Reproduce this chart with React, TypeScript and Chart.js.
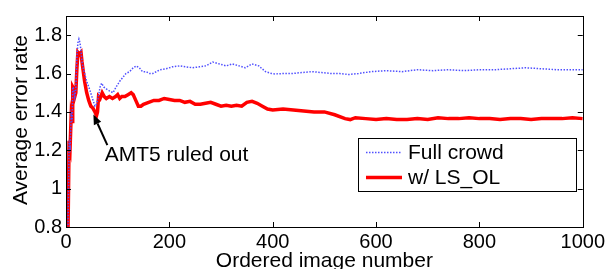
import React, { useEffect, useRef } from "react";
import { Chart, registerables } from "chart.js";

Chart.register(...registerables);

const xTicks = [0, 200, 400, 600, 800, 1000];
const yTicks = [0.8, 1.0, 1.2, 1.4, 1.6, 1.8];

const seriesNames = ["Full crowd", "w/ LS_OL"];

const fullCrowdX = [3, 4, 6, 8, 10, 12, 13, 15, 17, 19, 21, 23, 25, 27, 29, 31, 33, 36, 40, 46, 50, 56, 59, 62, 66, 69, 73, 78, 84, 91, 97, 104, 110, 116, 123, 130, 136, 142, 148, 155, 162, 168, 175, 182, 194, 206, 220, 232, 245, 258, 271, 284, 297, 310, 322, 335, 347, 360, 373, 386, 398, 405, 420, 437, 456, 476, 495, 514, 530, 547, 566, 590, 620, 650, 680, 710, 740, 770, 800, 830, 860, 890, 920, 950, 980, 1000];
const fullCrowdY = [0.7, 0.8, 1.25, 1.22, 1.38, 1.35, 1.53, 1.52, 1.48, 1.52, 1.68, 1.76, 1.78, 1.76, 1.72, 1.66, 1.63, 1.6, 1.56, 1.515, 1.48, 1.43, 1.44, 1.47, 1.53, 1.55, 1.53, 1.52, 1.51, 1.5, 1.53, 1.56, 1.58, 1.6, 1.61, 1.63, 1.64, 1.63, 1.61, 1.61, 1.6, 1.6, 1.61, 1.62, 1.625, 1.635, 1.64, 1.635, 1.63, 1.635, 1.64, 1.66, 1.65, 1.64, 1.65, 1.64, 1.63, 1.65, 1.64, 1.61, 1.6, 1.598, 1.6, 1.6, 1.605, 1.61, 1.605, 1.6, 1.6, 1.595, 1.6, 1.61, 1.615, 1.61, 1.62, 1.615, 1.62, 1.615, 1.62, 1.62, 1.625, 1.63, 1.625, 1.62, 1.62, 1.62];

const lsolX = [3, 4, 6, 8, 10, 12, 13, 15, 17, 19, 21, 23, 26, 29, 31, 33, 36, 40, 44, 48, 52, 56, 59, 61, 63, 66, 70, 74, 78, 84, 90, 96, 100, 104, 108, 114, 120, 126, 130, 135, 140, 145, 150, 160, 170, 180, 190, 200, 210, 220, 230, 240, 250, 260, 270, 280, 290, 300, 310, 320, 330, 340, 350, 360, 370, 380, 390, 400, 420, 440, 460, 480, 500, 520, 540, 550, 560, 580, 600, 620, 640, 660, 680, 700, 720, 740, 760, 780, 800, 820, 840, 860, 880, 900, 920, 940, 960, 980, 1000];
const lsolY = [0.7, 0.8, 1.25, 1.22, 1.38, 1.35, 1.53, 1.52, 1.48, 1.5, 1.62, 1.71, 1.7, 1.71, 1.66, 1.62, 1.56, 1.5, 1.46, 1.43, 1.42, 1.4, 1.38, 1.4, 1.48, 1.47, 1.5, 1.48, 1.47, 1.48, 1.47, 1.48, 1.49, 1.47, 1.48, 1.48, 1.49, 1.5, 1.49, 1.46, 1.43, 1.43, 1.44, 1.45, 1.46, 1.46, 1.47, 1.465, 1.46, 1.46, 1.45, 1.455, 1.44, 1.44, 1.445, 1.45, 1.44, 1.43, 1.435, 1.43, 1.435, 1.43, 1.45, 1.455, 1.445, 1.43, 1.415, 1.41, 1.415, 1.41, 1.405, 1.4, 1.4, 1.385, 1.365, 1.36, 1.37, 1.365, 1.36, 1.365, 1.36, 1.36, 1.365, 1.36, 1.37, 1.365, 1.365, 1.37, 1.365, 1.365, 1.36, 1.365, 1.365, 1.36, 1.365, 1.365, 1.365, 1.37, 1.365];

const annotationText = "AMT5 ruled out";
const annotationTip = { x: 53, y: 1.387 };
const annotationTail = { x: 80, y: 1.227 };
const annotationTextPos = { x: 75, y: 1.145 };

const xTitle = "Ordered image number";
const yTitle = "Average error rate";

const FONT = "'Liberation Sans', Arial, Helvetica, sans-serif";
const BLUE = "#5050ff";
const RED = "#ff0000";

const decorPlugin = {
  id: "decor",
  afterDatasetsDraw(chart: any) {
    const { ctx, chartArea: a, scales } = chart;
    const xs = scales.x;
    const ys = scales.y;
    ctx.save();
    ctx.strokeStyle = "#000";
    ctx.lineWidth = 1;
    ctx.strokeRect(Math.round(a.left) + 0.5, Math.round(a.top) + 0.5, Math.round(a.right - a.left), Math.round(a.bottom - a.top));
    const tl = 5;
    ctx.beginPath();
    xTicks.forEach((v) => {
      const px = Math.round(xs.getPixelForValue(v)) + 0.5;
      ctx.moveTo(px, a.bottom);
      ctx.lineTo(px, a.bottom - tl);
      ctx.moveTo(px, a.top);
      ctx.lineTo(px, a.top + tl);
    });
    yTicks.forEach((v) => {
      const py = Math.round(ys.getPixelForValue(v)) + 0.5;
      ctx.moveTo(a.left, py);
      ctx.lineTo(a.left + tl, py);
      ctx.moveTo(a.right, py);
      ctx.lineTo(a.right - tl, py);
    });
    ctx.stroke();

    const tipX = xs.getPixelForValue(annotationTip.x);
    const tipY = ys.getPixelForValue(annotationTip.y);
    const tailX = xs.getPixelForValue(annotationTail.x);
    const tailY = ys.getPixelForValue(annotationTail.y);
    const ang = Math.atan2(tipY - tailY, tipX - tailX);
    const hl = 10;
    const hw = 4;
    const bx = tipX - hl * Math.cos(ang);
    const by = tipY - hl * Math.sin(ang);
    ctx.strokeStyle = "#000";
    ctx.lineWidth = 2;
    ctx.beginPath();
    ctx.moveTo(tailX, tailY);
    ctx.lineTo(bx, by);
    ctx.stroke();
    ctx.fillStyle = "#000";
    ctx.beginPath();
    ctx.moveTo(tipX, tipY);
    ctx.lineTo(bx + hw * Math.sin(ang), by - hw * Math.cos(ang));
    ctx.lineTo(bx - hw * Math.sin(ang), by + hw * Math.cos(ang));
    ctx.closePath();
    ctx.fill();
    ctx.font = `21px ${FONT}`;
    ctx.textAlign = "left";
    ctx.textBaseline = "alphabetic";
    ctx.fillText(annotationText, xs.getPixelForValue(annotationTextPos.x), ys.getPixelForValue(annotationTextPos.y));

    const lx = 358, ly = 138, lw = 218, lh = 53;
    ctx.fillStyle = "#fff";
    ctx.fillRect(lx, ly, lw, lh);
    ctx.strokeStyle = "#000";
    ctx.lineWidth = 1;
    ctx.strokeRect(lx + 0.5, ly + 0.5, lw, lh);
    const rows = [152.5, 177.5];
    chart.data.datasets.forEach((ds: any, i: number) => {
      const y = rows[i];
      ctx.save();
      ctx.strokeStyle = ds.borderColor;
      ctx.lineWidth = ds.borderWidth;
      ctx.setLineDash(ds.borderDash || []);
      ctx.beginPath();
      ctx.moveTo(366, y);
      ctx.lineTo(402, y);
      ctx.stroke();
      ctx.restore();
      ctx.fillStyle = "#000";
      ctx.font = `21px ${FONT}`;
      ctx.textBaseline = "middle";
      ctx.textAlign = "left";
      ctx.fillText(ds.label, 408, y + 1);
    });

    ctx.fillStyle = "#000";
    ctx.font = `21px ${FONT}`;
    ctx.textAlign = "center";
    ctx.textBaseline = "alphabetic";
    ctx.fillText(xTitle, (a.left + a.right) / 2, 267);
    ctx.save();
    ctx.translate(26.5, 120);
    ctx.rotate(-Math.PI / 2);
    ctx.fillText(yTitle, 0, 0);
    ctx.restore();
    ctx.restore();
  },
};

export default function App() {
  const ref = useRef<HTMLCanvasElement>(null);
  useEffect(() => {
    document.body.style.margin = "0";
    const chart = new Chart(ref.current as HTMLCanvasElement, {
      type: "line",
      data: {
        datasets: [
          {
            label: seriesNames[0],
            data: fullCrowdX.map((x, i) => ({ x, y: fullCrowdY[i] })),
            borderColor: BLUE,
            borderWidth: 1.5,
            borderDash: [1.5, 1.5],
            pointRadius: 0,
            fill: false,
            tension: 0,
          },
          {
            label: seriesNames[1],
            data: lsolX.map((x, i) => ({ x, y: lsolY[i] })),
            borderColor: RED,
            borderWidth: 3.5,
            pointRadius: 0,
            fill: false,
            tension: 0,
          },
        ],
      },
      options: {
        animation: false,
        responsive: false,
        devicePixelRatio: 1,
        layout: { padding: { top: 12, right: 23, left: 0, bottom: 0 } },
        plugins: { legend: { display: false }, tooltip: { enabled: false } },
        scales: {
          x: {
            type: "linear",
            min: 0,
            max: 1000,
            afterBuildTicks: (s: any) => {
              s.ticks = xTicks.map((v) => ({ value: v }));
            },
            afterFit: (s: any) => {
              s.height = 42;
            },
            grid: { display: false, drawTicks: false },
            border: { display: false },
            ticks: {
              color: "#000",
              font: { family: FONT, size: 20 },
              padding: 3,
              maxRotation: 0,
              autoSkip: false,
              callback: (v: any) => String(v),
            },
          },
          y: {
            type: "linear",
            min: 0.8,
            max: 1.9,
            afterBuildTicks: (s: any) => {
              s.ticks = yTicks.map((v) => ({ value: v }));
            },
            afterFit: (s: any) => {
              s.width = 66;
            },
            grid: { display: false, drawTicks: false },
            border: { display: false },
            ticks: {
              color: "#000",
              font: { family: FONT, size: 20 },
              padding: 4,
              autoSkip: false,
              callback: (v: any) => String(Math.round(Number(v) * 10) / 10),
            },
          },
        },
      },
      plugins: [decorPlugin],
    } as any);
    return () => chart.destroy();
  }, []);
  return (
    <div style={{ position: "fixed", left: 0, top: 0, width: 608, height: 269 }}>
      <canvas ref={ref} width={608} height={269} style={{ width: 608, height: 269 }} />
    </div>
  );
}
